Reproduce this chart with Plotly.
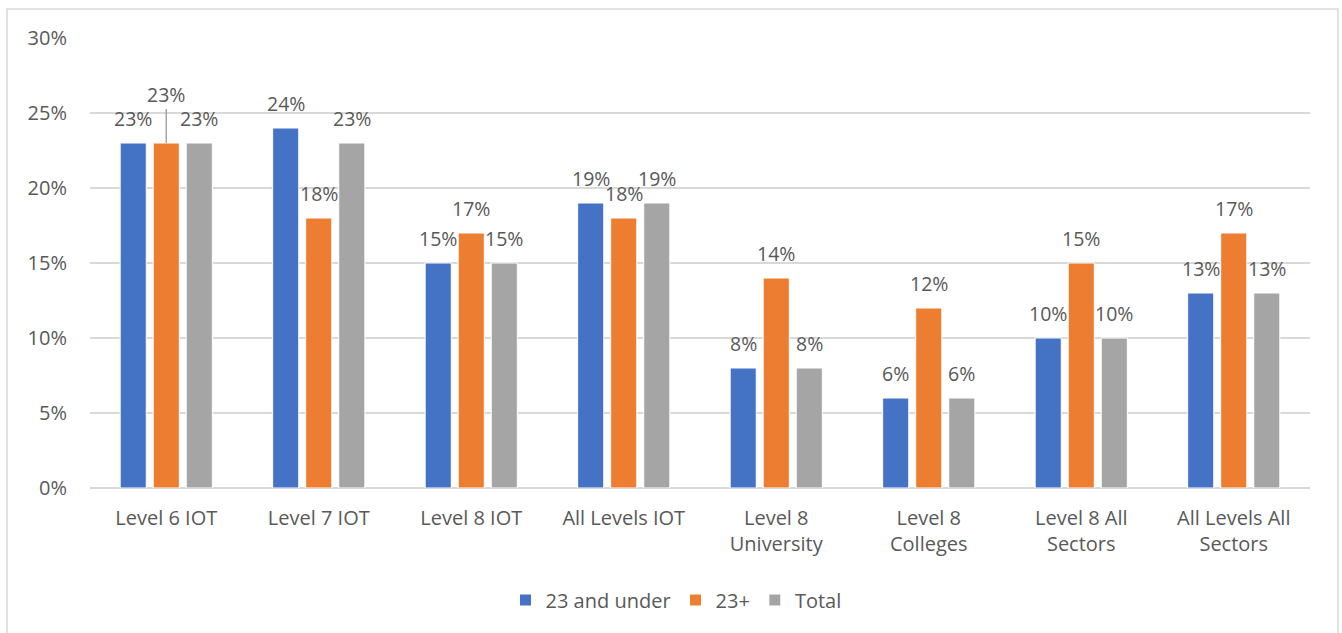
import plotly.graph_objects as go

categories = ["Level 6 IOT", "Level 7 IOT", "Level 8 IOT", "All Levels IOT",
              "Level 8<br>University", "Level 8<br>Colleges", "Level 8 All<br>Sectors",
              "All Levels All<br>Sectors"]
under_23 = [0.23, 0.24, 0.15, 0.19, 0.08, 0.06, 0.10, 0.13]
over_23 = [0.23, 0.18, 0.17, 0.18, 0.14, 0.12, 0.15, 0.17]
total = [0.23, 0.23, 0.15, 0.19, 0.08, 0.06, 0.10, 0.13]
series_names = ["23 and under", "23+", "Total"]
y_ticks = [0, 0.05, 0.10, 0.15, 0.20, 0.25, 0.30]

colors = ["#4472C4", "#ED7D31", "#A5A5A5"]
FONT = "Open Sans"
TXT = "#595959"

W, H = 1342, 633
L, T = 90, 38
PW, PH = 1220, 450
R, B = W - L - PW, H - T - PH


def px_x(x):
    return (x - L) / PW


def px_y(y):
    return (T + PH - y) / PH


fig = go.Figure()
for name, vals, col in zip(series_names, [under_23, over_23, total], colors):
    fig.add_bar(x=categories, y=vals, name=name, marker=dict(color=col, line=dict(color="white", width=1)))

# data labels, Excel style (sit above each bar)
slot = PW / len(categories) * 0.65 / 3
for k, vals in enumerate([under_23, over_23, total]):
    for i, v in enumerate(vals):
        if k == 1 and i == 0:
            # this one was dragged up in the original, with a leader line
            fig.add_annotation(x=categories[i], y=v, text=f"{v:.0%}", showarrow=True,
                               ax=0, ay=-49, arrowhead=0, arrowwidth=1.5, arrowcolor="#A6A6A6",
                               standoff=0, font=dict(family=FONT, size=19.5, color=TXT))
        else:
            fig.add_annotation(x=categories[i], y=v, text=f"{v:.0%}", showarrow=False,
                               xshift=(k - 1) * slot, yshift=25,
                               font=dict(family=FONT, size=19.5, color=TXT))

# outer chart border
fig.add_shape(type="rect", xref="paper", yref="paper",
              x0=px_x(7), x1=px_x(1338), y0=px_y(650), y1=px_y(9),
              line=dict(color="#D9D9D9", width=1.5), fillcolor="rgba(0,0,0,0)", layer="below")

fig.update_layout(
    width=W, height=H,
    margin=dict(l=L, r=R, t=T, b=B),
    paper_bgcolor="white", plot_bgcolor="white",
    barmode="group", bargap=0.35, bargroupgap=0.21,
    font=dict(family=FONT, size=20, color=TXT),
    legend=dict(orientation="h", x=px_x(676), xanchor="center", y=px_y(600), yanchor="middle",
                font=dict(size=20, color=TXT), itemwidth=30, traceorder="normal",
                bgcolor="rgba(0,0,0,0)"),
)
fig.update_yaxes(range=[0, 0.30], tickvals=y_ticks, tickformat=".0%", showgrid=True,
                 gridcolor="#D9D9D9", gridwidth=1.5, zeroline=True, zerolinecolor="#D9D9D9",
                 zerolinewidth=1.5, showline=False, ticklabelstandoff=22)
fig.update_xaxes(showgrid=False, showline=False, ticklabelstandoff=16, tickangle=0)

# drop the browser's default 8px body margin so the figure fills the window
fig.write_html("out.html", config={"displayModeBar": False},
               post_script="document.body.style.margin='0';document.body.style.overflow='hidden';")
